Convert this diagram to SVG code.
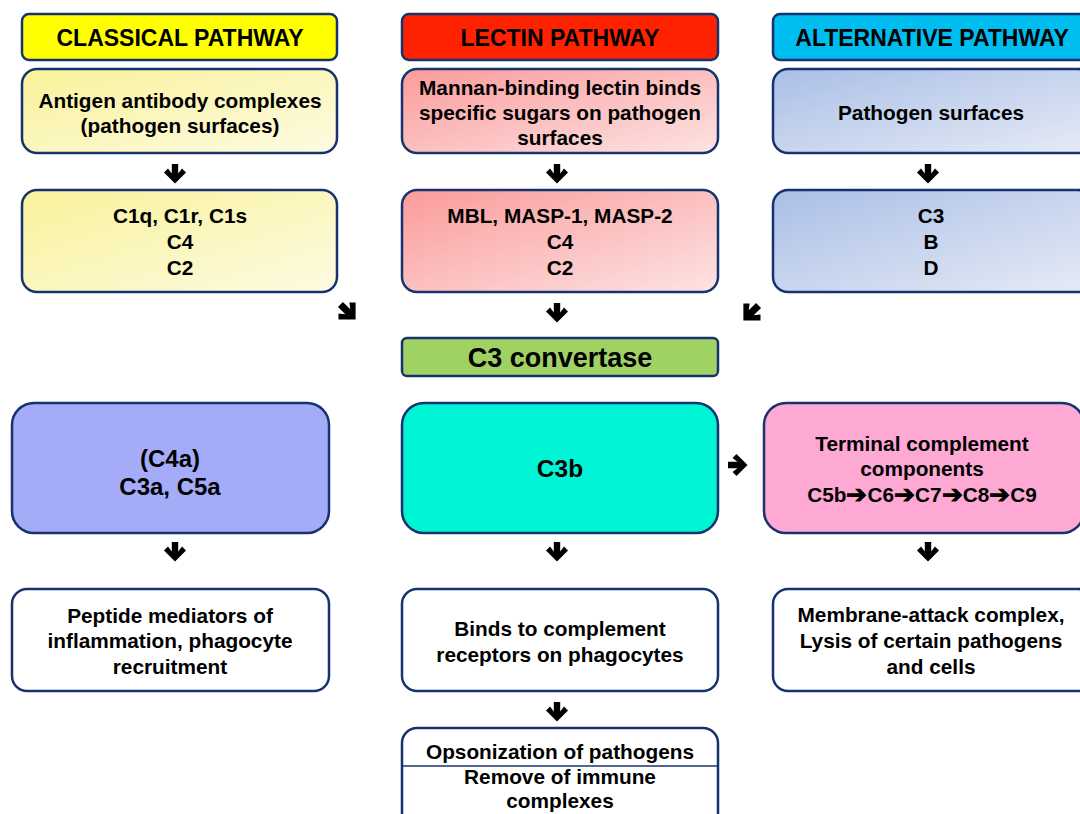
<svg xmlns="http://www.w3.org/2000/svg" width="1080" height="814" viewBox="0 0 1080 814">
<defs>
<style>
.b{stroke:#17336e;stroke-width:2.5}
text{font-family:"Liberation Sans",Arial,sans-serif;font-weight:bold;fill:#000;text-anchor:middle;dominant-baseline:central}
.h{font-size:23px}
.t{font-size:20.8px}
.a{font-size:25px}
</style>
<linearGradient id="gy" x1="0" y1="0" x2="1" y2="1"><stop offset="0" stop-color="#f9f29a"/><stop offset="1" stop-color="#fdfbe2"/></linearGradient>
<linearGradient id="gr" x1="0" y1="0" x2="1" y2="1"><stop offset="0" stop-color="#fb9b9b"/><stop offset="1" stop-color="#fde3e3"/></linearGradient>
<linearGradient id="gb" x1="0" y1="0" x2="1" y2="1"><stop offset="0" stop-color="#aabfe6"/><stop offset="1" stop-color="#e6ebf6"/></linearGradient>
<path id="ar" d="M-3.2,-11 H3.2 V-1.5 L7,-6.5 L11,-2.5 L0,8.5 L-11,-2.5 L-7,-6.5 L-3.2,-1.5 Z" fill="#000"/>
</defs>
<rect width="1080" height="814" fill="#fff"/>

<g id="classical-header"><rect class="b" x="22" y="14" width="315" height="46" rx="7" fill="#ffff00"/><text class="h" x="180" y="38">CLASSICAL PATHWAY</text></g>
<g id="lectin-header"><rect class="b" x="402" y="14" width="316" height="46" rx="7" fill="#ff2200"/><text class="h" x="560" y="38">LECTIN PATHWAY</text></g>
<g id="alt-header"><rect class="b" x="773" y="14" width="320" height="46" rx="7" fill="#00bdf0"/><text class="h" x="932" y="38">ALTERNATIVE PATHWAY</text></g>

<g id="classical-1"><rect class="b" x="22" y="69" width="315" height="84" rx="15" fill="url(#gy)"/><text class="t" x="180" y="100">Antigen antibody complexes</text><text class="t" x="180" y="125">(pathogen surfaces)</text></g>
<g id="lectin-1"><rect class="b" x="402" y="69" width="316" height="84" rx="15" fill="url(#gr)"/><text class="t" x="560" y="87">Mannan-binding lectin binds</text><text class="t" x="560" y="112">specific sugars on pathogen</text><text class="t" x="560" y="137">surfaces</text></g>
<g id="alt-1"><rect class="b" x="773" y="69" width="320" height="84" rx="15" fill="url(#gb)"/><text class="t" x="931" y="112">Pathogen surfaces</text></g>

<g id="classical-2"><rect class="b" x="22" y="190" width="315" height="102" rx="15" fill="url(#gy)"/><text class="t" x="180" y="215">C1q, C1r, C1s</text><text class="t" x="180" y="241">C4</text><text class="t" x="180" y="267">C2</text></g>
<g id="lectin-2"><rect class="b" x="402" y="190" width="316" height="102" rx="15" fill="url(#gr)"/><text class="t" x="560" y="215">MBL, MASP-1, MASP-2</text><text class="t" x="560" y="241">C4</text><text class="t" x="560" y="267">C2</text></g>
<g id="alt-2"><rect class="b" x="773" y="190" width="320" height="102" rx="15" fill="url(#gb)"/><text class="t" x="931" y="215">C3</text><text class="t" x="931" y="241">B</text><text class="t" x="931" y="267">D</text></g>

<g id="c3-convertase"><rect class="b" x="402" y="338" width="316" height="38" rx="5" fill="#a0d163"/><text x="560" y="358" style="font-size:27px">C3 convertase</text></g>

<g id="c4a"><rect class="b" x="12" y="403" width="317" height="130" rx="22" fill="#a4acfa"/><text x="170" y="458" style="font-size:24px">(C4a)</text><text x="170" y="486" style="font-size:24px">C3a, C5a</text></g>
<g id="c3b"><rect class="b" x="402" y="403" width="316" height="130" rx="22" fill="#00f5d6"/><text x="560" y="468" style="font-size:24.5px">C3b</text></g>
<g id="terminal"><rect class="b" x="764" y="403" width="320" height="130" rx="22" fill="#fda9d3"/><text class="t" x="922" y="443">Terminal complement</text><text class="t" x="922" y="468">components</text><text class="t" x="922" y="494">C5b<tspan class="a">➔</tspan>C6<tspan class="a">➔</tspan>C7<tspan class="a">➔</tspan>C8<tspan class="a">➔</tspan>C9</text></g>

<g id="peptide"><rect class="b" x="12" y="589" width="317" height="102" rx="15" fill="#fff"/><text class="t" x="170" y="615">Peptide mediators of</text><text class="t" x="170" y="640">inflammation, phagocyte</text><text class="t" x="170" y="666">recruitment</text></g>
<g id="binds"><rect class="b" x="402" y="589" width="316" height="102" rx="15" fill="#fff"/><text class="t" x="560" y="628">Binds to complement</text><text class="t" x="560" y="654">receptors on phagocytes</text></g>
<g id="mac"><rect class="b" x="773" y="589" width="320" height="102" rx="15" fill="#fff"/><text class="t" x="931" y="614">Membrane-attack complex,</text><text class="t" x="931" y="640">Lysis of certain pathogens</text><text class="t" x="931" y="666">and cells</text></g>

<g id="opsonization"><rect class="b" x="402" y="728" width="316" height="110" rx="15" fill="#fff"/><line x1="403" y1="766" x2="717" y2="766" stroke="#17336e" stroke-width="1.5"/><text class="t" x="560" y="751">Opsonization of pathogens</text><text class="t" x="560" y="776">Remove of immune</text><text class="t" x="560" y="800">complexes</text></g>

<g id="connectors">
<use href="#ar" x="175" y="175"/>
<use href="#ar" x="557" y="175"/>
<use href="#ar" x="928" y="175"/>
<use href="#ar" transform="translate(349,313) rotate(-45) scale(1.1)"/>
<use href="#ar" x="557" y="314"/>
<use href="#ar" transform="translate(750,314) rotate(45) scale(1.1)"/>
<use href="#ar" transform="translate(739,465) rotate(-90)"/>
<use href="#ar" x="175" y="553"/>
<use href="#ar" x="557" y="553"/>
<use href="#ar" x="928" y="553"/>
<use href="#ar" x="557" y="713"/>
</g>
</svg>
